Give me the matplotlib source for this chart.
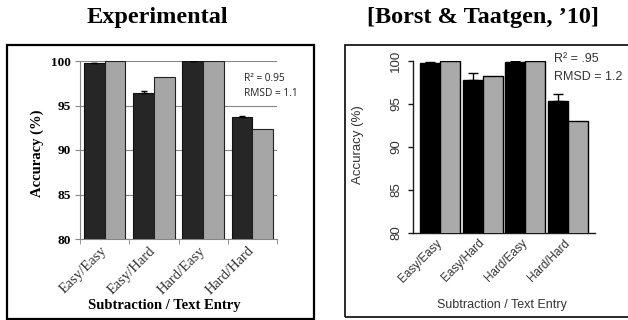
#!/usr/bin/env python3
"""Accuracy per subtraction / text-entry condition: experiment vs. model."""

import matplotlib

matplotlib.use("Agg")
import matplotlib.pyplot as plt
import numpy as np
from matplotlib.patches import Rectangle
from matplotlib.transforms import ScaledTranslation

W, H = 628, 320

conditions = ["Easy/Easy", "Easy/Hard", "Hard/Easy", "Hard/Hard"]
y_ticks = [80, 85, 90, 95, 100]

# Experimental data
exp_subtraction = [99.75, 96.45, 99.95, 93.7]
exp_subtraction_err = [0.05, 0.2, 0.05, 0.15]
exp_text_entry = [100.0, 98.25, 100.0, 92.35]
exp_fit = ["R² = 0.95", "RMSD = 1.1"]

# Borst & Taatgen (2010) model
model_subtraction = [99.8, 97.8, 99.9, 95.3]
model_subtraction_err = [0.05, 0.8, 0.05, 0.9]
model_text_entry = [100.0, 98.3, 100.0, 93.0]
model_fit = ["R² = .95", "RMSD = 1.2"]

SERIF = "Liberation Serif"
SANS = "Liberation Sans"


def px_rect(left, top, right, bottom):
  """Pixel box -> figure-fraction [x, y, w, h]."""
  return [left / W, 1 - bottom / H, (right - left) / W, (bottom - top) / H]


def fx(px):
  return px / W


def fy(py):
  return 1 - py / H


def draw_experimental(fig):
  ax = fig.add_axes(px_rect(80, 61, 277, 239))
  x = np.arange(len(conditions))
  bw = 0.42
  grid = "#868686"

  ax.bar(x - bw / 2, exp_subtraction, bw, color="#262626", edgecolor="#111111",
         linewidth=0.8, zorder=3)
  ax.bar(x + bw / 2, exp_text_entry, bw, color="#a6a6a6", edgecolor="#222222",
         linewidth=0.8, zorder=3)
  ax.errorbar(x - bw / 2, exp_subtraction,
              yerr=[np.zeros(len(x)), exp_subtraction_err],
              fmt="none", ecolor="black", elinewidth=0.8, capsize=2.5, zorder=4)

  ax.set_xlim(-0.5, 3.5)
  ax.set_ylim(80, 100)
  ax.set_yticks(y_ticks)
  ax.set_yticklabels([str(t) for t in y_ticks], fontfamily=SERIF,
                     fontweight="bold", fontsize=9.5)
  ax.yaxis.grid(True, color=grid, linewidth=0.8, zorder=0)
  ax.set_axisbelow(True)
  ax.tick_params(axis="y", direction="out", length=3.6, color=grid, pad=3)

  ax.set_xticks(x)
  ax.set_xticklabels(conditions, rotation=45, ha="right", va="center",
                     rotation_mode="anchor", fontfamily=SERIF, fontsize=10.5,
                     color="#333333")
  # labels hang a little right of the category centre
  shift = ScaledTranslation(0.06, 0, fig.dpi_scale_trans)
  for label in ax.get_xticklabels():
    label.set_transform(label.get_transform() + shift)
  ax.set_xticks(np.arange(-0.5, 4, 1.0), minor=True)
  ax.tick_params(axis="x", which="major", length=0, pad=7)
  ax.tick_params(axis="x", which="minor", direction="out", length=3.6, color=grid)

  for side in ("top", "right"):
    ax.spines[side].set_visible(False)
  for side in ("left", "bottom"):
    ax.spines[side].set_color(grid)
    ax.spines[side].set_linewidth(0.8)

  fig.text(fx(37), fy(153), "Accuracy (%)", rotation=90, ha="center",
           va="center", fontfamily=SERIF, fontweight="bold", fontsize=10.5)
  fig.text(fx(164), fy(306), "Subtraction / Text Entry", ha="center",
           va="center", fontfamily=SERIF, fontweight="bold", fontsize=10.5)
  fig.text(fx(244), fy(86), "\n".join(exp_fit), ha="left", va="center",
           fontfamily="Open Sans", fontsize=7.3, linespacing=1.4,
           color="#222222")


def draw_model(fig):
  ax = fig.add_axes(px_rect(413, 61, 595, 233))
  x = np.arange(len(conditions))
  bw = 0.47
  ink = "#1a1a1a"

  ax.bar(x - bw / 2, model_subtraction, bw, color="black", edgecolor="black",
         linewidth=1.0, zorder=3)
  ax.bar(x + bw / 2, model_text_entry, bw, color="#aaaaaa", edgecolor="black",
         linewidth=1.0, zorder=3)
  ax.errorbar(x - bw / 2, model_subtraction,
              yerr=[np.zeros(len(x)), model_subtraction_err],
              fmt="none", ecolor="black", elinewidth=1.0, capsize=3.5, zorder=4)

  ax.set_xlim(-0.63, 3.63)
  ax.set_ylim(80, 100)
  ax.set_yticks(y_ticks)
  ax.set_yticklabels([str(t) for t in y_ticks], rotation=90, va="center",
                     fontfamily=SANS, fontsize=9.5, color="#333333")
  ax.tick_params(axis="y", direction="out", length=3.6, width=1.0, color=ink,
                 pad=4)

  ax.set_xticks(x)
  ax.set_xticklabels(conditions, rotation=45, ha="right", va="center",
                     rotation_mode="anchor", fontfamily=SANS, fontsize=8.5,
                     color="#333333")
  ax.tick_params(axis="x", length=0, pad=6)

  for side in ("top", "right"):
    ax.spines[side].set_visible(False)
  ax.spines["left"].set_bounds(80, 100)
  for side in ("left", "bottom"):
    ax.spines[side].set_color(ink)
    ax.spines[side].set_linewidth(1.0)

  fig.text(fx(358), fy(145), "Accuracy (%)", rotation=90, ha="center",
           va="center", fontfamily=SANS, fontsize=9.5, color="#333333")
  fig.text(fx(502), fy(305), "Subtraction / Text Entry", ha="center",
           va="center", fontfamily=SANS, fontsize=9, color="#333333")
  fig.text(fx(554), fy(68), "\n".join(model_fit), ha="left", va="center",
           fontfamily=SANS, fontsize=9, linespacing=1.75, color="#333333")


def main():
  fig = plt.figure(figsize=(W / 100, H / 100), dpi=100)

  # panel frames
  fig.add_artist(Rectangle((fx(7), fy(319)), (314 - 7) / W, (319 - 45) / H,
                           transform=fig.transFigure, fill=False,
                           linewidth=1.6, edgecolor="black"))
  fig.add_artist(Rectangle((fx(345), fy(317)), (640 - 345) / W, (317 - 45) / H,
                           transform=fig.transFigure, fill=False,
                           linewidth=1.3, edgecolor="#1a1a1a"))

  fig.text(fx(157), fy(18), "Experimental", ha="center", va="center",
           fontfamily=SERIF, fontweight="bold", fontsize=17.5)
  fig.text(fx(483), fy(18), "[Borst & Taatgen, \u201910]", ha="center",
           va="center", fontfamily=SERIF, fontweight="bold", fontsize=17.5)

  draw_experimental(fig)
  draw_model(fig)

  fig.savefig("out.png", dpi=100)
  plt.close(fig)


if __name__ == "__main__":
  main()
